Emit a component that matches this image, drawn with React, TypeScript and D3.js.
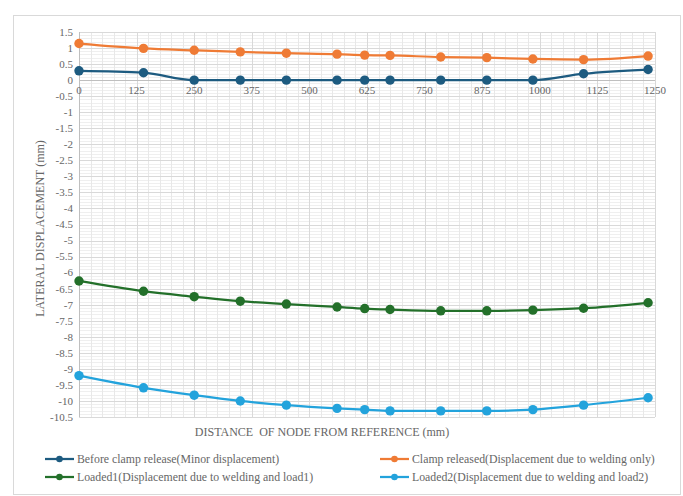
import React, { useEffect, useRef } from "react";
import * as d3 from "d3";

// distance of node from reference (mm)
const distances = [0, 140, 250, 350, 450, 560, 620, 675, 785, 885, 985, 1095, 1235];

const beforeClamp = [0.29, 0.23, 0, 0, 0, 0, 0, 0, 0, 0, 0, 0.2, 0.33];
const clampReleased = [1.14, 0.99, 0.93, 0.88, 0.84, 0.81, 0.78, 0.77, 0.72, 0.7, 0.66, 0.64, 0.75];
const loaded1 = [-6.26, -6.58, -6.75, -6.89, -6.98, -7.07, -7.12, -7.15, -7.19, -7.19, -7.17, -7.11, -6.94];
const loaded2 = [-9.21, -9.59, -9.82, -10.0, -10.13, -10.23, -10.27, -10.31, -10.31, -10.31, -10.27, -10.13, -9.9];

const seriesNames = [
  "Before clamp release(Minor displacement)",
  "Clamp released(Displacement due to welding only)",
  "Loaded1(Displacement due to welding and load1)",
  "Loaded2(Displacement due to welding and load2)",
];
const xTicks = [0, 125, 250, 375, 500, 625, 750, 875, 1000, 1125, 1250];
const yTicks = d3.range(-10.5, 1.51, 0.5).map(v => Math.round(v * 10) / 10);

const App = () => {
  const svgRef = useRef<SVGSVGElement>(null);

  useEffect(() => {
    const svg = d3.select(svgRef.current);
    svg.selectAll("*").remove();
    const font = "'Liberation Serif', 'Times New Roman', serif";
    const textColor = "#666666";
    const colors = ["#1d5b80", "#ef7b35", "#23702a", "#23a3dc"];
    const all = [beforeClamp, clampReleased, loaded1, loaded2];

    const x = d3.scaleLinear().domain([0, 1250]).range([79, 655]);
    const y = d3.scaleLinear().domain([-10.5, 1.5]).range([417, 32]);

    svg.append("rect")
      .attr("x", 13.5).attr("y", 15.5)
      .attr("width", 667).attr("height", 479)
      .attr("fill", "white").attr("stroke", "#d9d9d9");

    // minor grid
    const grid = svg.append("g");
    grid.selectAll("line.hminor")
      .data(d3.range(-10.5, 1.5, 0.1))
      .join("line")
      .attr("x1", x(0)).attr("x2", x(1250))
      .attr("y1", d => Math.round(y(d)) + 0.5).attr("y2", d => Math.round(y(d)) + 0.5)
      .attr("stroke", "#efefef");
    grid.selectAll("line.vminor")
      .data(d3.range(0, 1251, 25))
      .join("line")
      .attr("x1", d => Math.round(x(d)) + 0.5).attr("x2", d => Math.round(x(d)) + 0.5)
      .attr("y1", y(1.5)).attr("y2", y(-10.5))
      .attr("stroke", "#e8e8e8");
    // major grid
    grid.selectAll("line.hmajor")
      .data(yTicks)
      .join("line")
      .attr("x1", x(0)).attr("x2", x(1250))
      .attr("y1", d => Math.round(y(d)) + 0.5).attr("y2", d => Math.round(y(d)) + 0.5)
      .attr("stroke", "#d9d9d9");
    svg.append("g").selectAll("line")
      .data(xTicks)
      .join("line")
      .attr("x1", d => Math.round(x(d)) + 0.5).attr("x2", d => Math.round(x(d)) + 0.5)
      .attr("y1", y(1.5)).attr("y2", y(-10.5))
      .attr("stroke", "#d9d9d9");

    // axis lines
    svg.append("line")
      .attr("x1", x(0)).attr("x2", x(1250))
      .attr("y1", Math.round(y(0)) + 0.5).attr("y2", Math.round(y(0)) + 0.5)
      .attr("stroke", "#bfbfbf");
    svg.append("line")
      .attr("x1", Math.round(x(0)) + 0.5).attr("x2", Math.round(x(0)) + 0.5)
      .attr("y1", y(1.5)).attr("y2", y(-10.5))
      .attr("stroke", "#bfbfbf");

    // tick labels
    svg.append("g").selectAll("text")
      .data(yTicks)
      .join("text")
      .attr("x", 73).attr("y", d => y(d))
      .attr("dy", "0.35em")
      .attr("text-anchor", "end")
      .attr("font-family", font).attr("font-size", 11)
      .attr("fill", textColor)
      .text(d => String(d));
    svg.append("g").selectAll("text")
      .data(xTicks)
      .join("text")
      .attr("x", d => x(d)).attr("y", y(0) + 14)
      .attr("text-anchor", "middle")
      .attr("font-family", font).attr("font-size", 11)
      .attr("fill", textColor)
      .text(d => String(d));

    // axis titles
    svg.append("text")
      .attr("transform", `translate(44, ${(y(1.5) + y(-10.5)) / 2 + 4}) rotate(-90)`)
      .attr("text-anchor", "middle")
      .attr("font-family", font).attr("font-size", 12)
      .attr("fill", textColor)
      .text("LATERAL  DISPLACEMENT  (mm)");
    svg.append("text")
      .attr("x", 322).attr("y", 436)
      .attr("text-anchor", "middle")
      .attr("font-family", font).attr("font-size", 12)
      .attr("fill", textColor)
      .style("white-space", "pre")
      .text("DISTANCE  OF NODE FROM REFERENCE (mm)");

    // series
    const line = d3.line<number>()
      .x((_, i) => x(distances[i]))
      .y(d => y(d))
      .curve(d3.curveMonotoneX);

    all.forEach((vals, s) => {
      svg.append("path")
        .datum(vals)
        .attr("d", line)
        .attr("fill", "none")
        .attr("stroke", colors[s])
        .attr("stroke-width", 2.25);
      svg.append("g").selectAll("circle")
        .data(vals)
        .join("circle")
        .attr("cx", (_, i) => x(distances[i]))
        .attr("cy", d => y(d))
        .attr("r", 4.7)
        .attr("fill", colors[s]);
    });

    // legend
    const legendPos = [[45, 459], [380, 459], [45, 477], [380, 477]];
    seriesNames.forEach((name, s) => {
      const [lx, ly] = legendPos[s];
      const g = svg.append("g").attr("transform", `translate(${lx}, ${ly})`);
      g.append("line").attr("x1", 0).attr("x2", 29).attr("y1", 0).attr("y2", 0)
        .attr("stroke", colors[s]).attr("stroke-width", 2.25);
      g.append("circle").attr("cx", 14.5).attr("cy", 0).attr("r", 3.3).attr("fill", colors[s]);
      g.append("text")
        .attr("x", 32).attr("y", 0).attr("dy", "0.35em")
        .attr("font-family", font).attr("font-size", 11.8)
        .attr("fill", textColor)
        .text(name);
    });
  }, []);

  return (
    <svg ref={svgRef} width={683} height={496} style={{ display: "block", position: "absolute", left: 0, top: 0 }} />
  );
};

export default App;
